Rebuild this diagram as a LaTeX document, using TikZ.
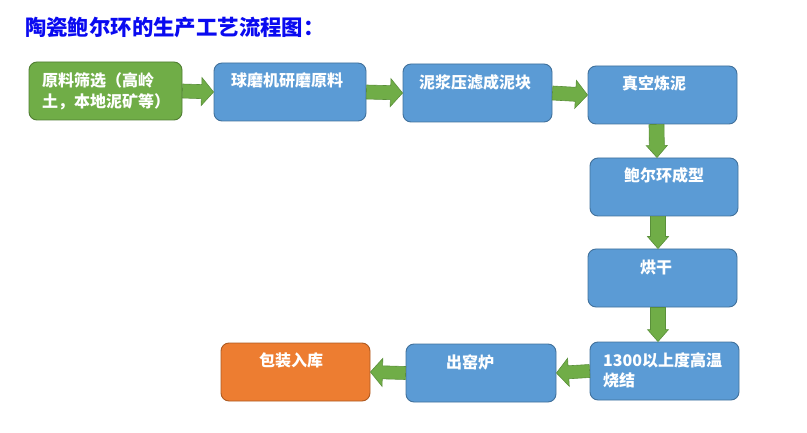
\documentclass[tikz,border=0pt]{standalone}
\usepackage{fontspec}
\newfontfamily\cjk{Noto Sans CJK SC}
\usetikzlibrary{calc}

\definecolor{stageblue}{HTML}{5B9BD5}
\definecolor{stageblueedge}{HTML}{41719C}
\definecolor{stagegreen}{HTML}{70AD47}
\definecolor{stagegreenedge}{HTML}{507E32}
\definecolor{stageorange}{HTML}{ED7D31}
\definecolor{stageorangeedge}{HTML}{AE5A21}
\definecolor{flowgreen}{HTML}{70AD47}
\definecolor{flowedge}{HTML}{5A8F3A}
\definecolor{titleblue}{HTML}{0A0AF0}

\tikzset{
  stage/.style={draw=stageblueedge,fill=stageblue,line width=0.9pt,rounded corners=8pt,
    minimum width=149pt,minimum height=58pt,inner sep=0pt},
  stagetext/.style={anchor=west,inner sep=0pt,align=left,text=white,
    font=\cjk\bfseries\fontsize{16}{20.5}\selectfont},
  flow/.style n args={3}{fill=flowgreen,draw=flowedge,line width=0.6pt,line join=miter,
    to path={
      ($(\tikztostart)!#1!90:(\tikztotarget)$)
      -- ($(\tikztotarget)!#3!(\tikztostart)!#1!-90:(\tikztostart)$)
      -- ($(\tikztotarget)!#3!(\tikztostart)!#2!-90:(\tikztostart)$)
      -- (\tikztotarget)
      -- ($(\tikztotarget)!#3!(\tikztostart)!#2!90:(\tikztostart)$)
      -- ($(\tikztotarget)!#3!(\tikztostart)!#1!90:(\tikztostart)$)
      -- ($(\tikztostart)!#1!-90:(\tikztotarget)$)
      -- cycle}},
  flowh/.style={flow={7pt}{14pt}{12pt}},
  flowv/.style={flow={7.5pt}{10.5pt}{12pt}}
}

\begin{document}
\begin{tikzpicture}[x=1pt,y=-1pt]
\useasboundingbox (0,0) rectangle (807,433);

\node (title) [anchor=west,inner sep=0pt,text=titleblue,font=\cjk\bfseries\fontsize{21.4}{25}\selectfont] at (25,27.5) {陶瓷鲍尔环的生产工艺流程图：};

\node (sieve) [stage,draw=stagegreenedge,fill=stagegreen,minimum width=153pt] at (105.5,91) {};
\node (mill) [stage,minimum width=152pt] at (290,92) {};
\node (press) [stage] at (477.5,93) {};
\node (vacuum) [stage] at (662.5,95) {};
\node (forming) [stage,minimum width=148pt] at (664,187) {};
\node (drying) [stage] at (662.5,278) {};
\node (firing) [stage] at (664.5,371) {};
\node (unload) [stage,minimum width=150pt] at (481,373) {};
\node (packing) [stage,draw=stageorangeedge,fill=stageorange] at (295.5,372) {};

\node (sievetext) [stagetext] at (42,91.5) {原料筛选（高岭\\土，本地泥矿等）};
\node (milltext) [stagetext] at (231,80) {球磨机研磨原料};
\node (presstext) [stagetext] at (419,82) {泥浆压滤成泥块};
\node (vacuumtext) [stagetext] at (622,83) {真空炼泥};
\node (formingtext) [stagetext] at (624,175) {鲍尔环成型};
\node (dryingtext) [stagetext] at (640,267) {烘干};
\node (firingtext) [stagetext] at (603,370.5) {1300以上度高温\\烧结};
\node (unloadtext) [stagetext] at (446,362) {出窑炉};
\node (packingtext) [stagetext] at (259,360) {包装入库};

\path[flowh] (sieve.east) to (mill.west);
\path[flowh] (mill.east) to (press.west);
\path[flowh] (press.east) to (vacuum.west);
\path[flowv] ([xshift=-6pt]vacuum.south) to ([xshift=-7pt]forming.north);
\path[flowv] ([xshift=-6pt]forming.south) to ([xshift=-4.5pt]drying.north);
\path[flowv] ([xshift=-4.5pt]drying.south) to ([xshift=-6.5pt]firing.north);
\path[flow={6.5pt}{14pt}{12pt}] (firing.west) to (unload.east);
\path[flow={6.5pt}{14pt}{12pt}] (unload.west) to (packing.east);

\end{tikzpicture}
\end{document}
